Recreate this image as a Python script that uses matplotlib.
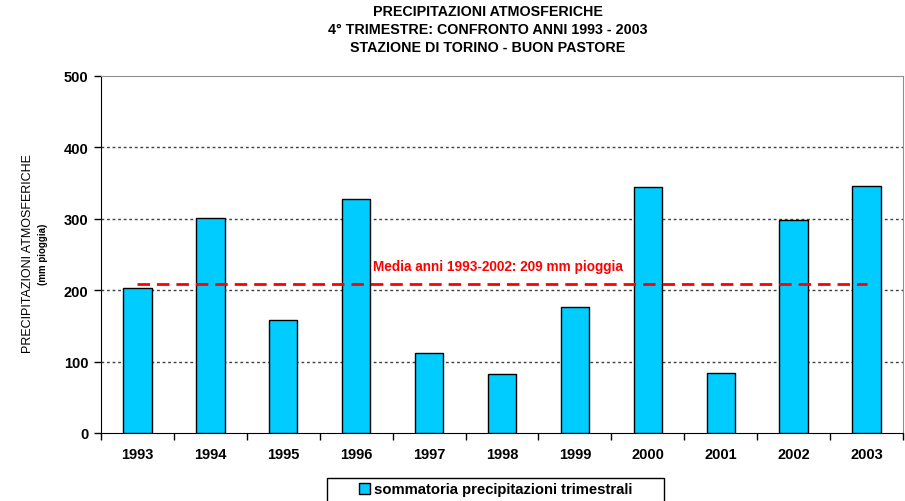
import numpy as np
import matplotlib.pyplot as plt
from matplotlib.patches import Patch, Rectangle

plt.rcParams['font.family'] = ['Liberation Sans', 'DejaVu Sans']

years = ['1993', '1994', '1995', '1996', '1997', '1998', '1999', '2000', '2001', '2002', '2003']
rain = [203, 301, 158, 328, 112, 82, 176, 344, 84, 299, 346]
media = 209
media_label = 'Media anni 1993-2002: 209 mm pioggia'

fig = plt.figure(figsize=(9.05, 5.02), dpi=100)
ax = fig.add_axes([101/905, 1-434/502, 802/905, 357/502])

x = np.arange(len(years))
ax.bar(x, rain, width=0.39, color='#00CCFF', edgecolor='black', linewidth=1, zorder=3)

# linea media
ax.plot([x[0], x[-1]], [media, media], color='red', lw=2, dashes=(4.5, 2.5), zorder=4)
ax.text(3.23, 234, media_label, color='red', fontsize=9.8, fontweight='bold', va='center', ha='left')

ax.set_xlim(-0.5, len(years) - 0.5)
ax.set_ylim(0, 500)
ax.set_yticks(range(0, 501, 100))
ax.set_xticks(np.arange(-0.5, len(years)), labels=[])
ax.set_xticks(x, labels=years, minor=True)
ax.tick_params(axis='x', which='major', direction='out', length=5, width=1, color='black')
ax.tick_params(axis='x', which='minor', length=0, pad=10, labelsize=10.5)
ax.tick_params(axis='y', direction='out', length=5, width=1, labelsize=10.5, pad=4)
for lab in ax.get_xticklabels(minor=True) + ax.get_yticklabels():
    lab.set_fontweight('bold')

for yv in [100, 200, 300, 400]:
    ax.axhline(yv, color='#404040', lw=1, ls=(0, (2, 2)), zorder=1)

ax.spines['left'].set_color('black')
ax.spines['bottom'].set_color('black')
ax.spines['top'].set_color('#909090')
ax.spines['right'].set_color('#909090')

# titolo
fig.text(488/905, 1-30/502, 'PRECIPITAZIONI ATMOSFERICHE\n4° TRIMESTRE: CONFRONTO ANNI 1993 - 2003\nSTAZIONE DI TORINO - BUON PASTORE',
         ha='center', va='center', fontsize=10.3, fontweight='bold', linespacing=1.38)

# etichetta asse y
fig.text(28/905, 1-254/502, 'PRECIPITAZIONI ATMOSFERICHE', rotation=90, ha='center', va='center', fontsize=9)
fig.text(43/905, 1-254/502, '(mm pioggia)', rotation=90, ha='center', va='center', fontsize=7, fontweight='bold')

# legenda
fig.patches.append(Rectangle((327/905, -0.1), (664-327)/905, 1-479/502+0.1, transform=fig.transFigure,
                             fill=False, edgecolor='black', lw=1))
leg = fig.legend(handles=[Patch(facecolor='#00CCFF', edgecolor='black', label='sommatoria precipitazioni trimestrali')],
                 loc='center left', bbox_to_anchor=(359/905, 1-490.5/502), frameon=False,
                 prop={'size': 10.7, 'weight': 'bold'}, handlelength=0.74, handleheight=0.74, handletextpad=0.3,
                 borderpad=0, borderaxespad=0)

fig.savefig('out.png', dpi=100)
